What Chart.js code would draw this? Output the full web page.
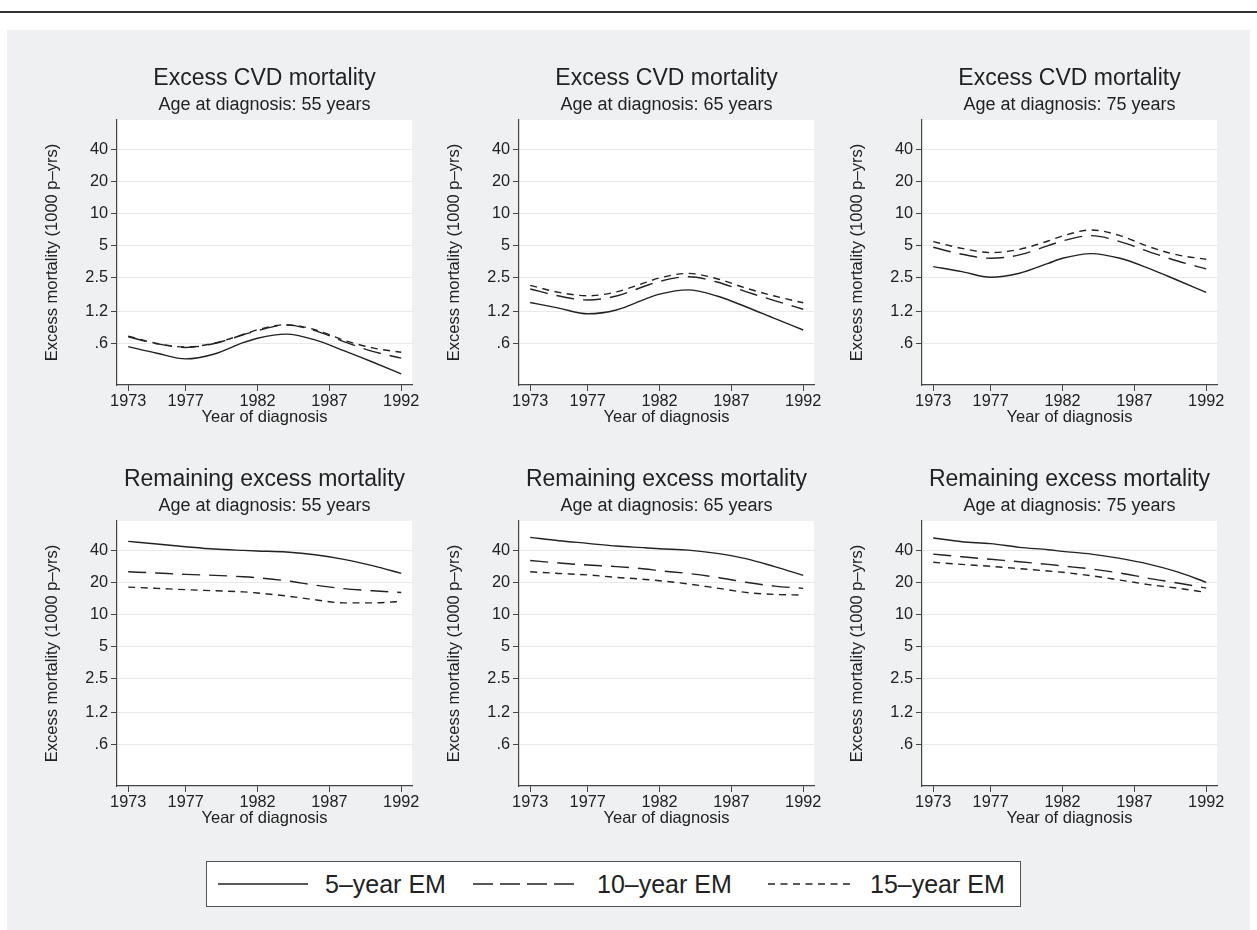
<!DOCTYPE html>
<html>
<head>
<meta charset="utf-8">
<script src="https://cdn.jsdelivr.net/npm/chart.js@4.4.0/dist/chart.umd.min.js"></script>
<style>
  body { margin: 0; width: 1257px; height: 930px; position: relative; overflow: hidden; background: #fff;
         font-family: "Liberation Sans", Arial, Helvetica, sans-serif; color: #222; }
  #rule { position: absolute; left: 0; top: 11px; width: 1257px; height: 2px; background: #333; }
  #panel { position: absolute; left: 7px; top: 30px; width: 1243px; height: 900px; background: #eff0f2; }
  canvas { position: absolute; }
  #legend { position: absolute; left: 206px; top: 861px; width: 813px; height: 44px; background: #fff;
            border: 1.5px solid #555; }
  #legend svg, #legend span { position: absolute; }
  #legend span { font-size: 25px; line-height: 44px; top: 0; white-space: nowrap; }
  #legend svg { top: 17px; }
</style>
</head>
<body>
<div id="rule"></div>
<div id="panel"></div>
<canvas id="c0"></canvas><canvas id="c1"></canvas><canvas id="c2"></canvas>
<canvas id="c3"></canvas><canvas id="c4"></canvas><canvas id="c5"></canvas>
<div id="legend">
  <svg style="left:11px" width="90" height="10"><line x1="0" y1="5" x2="90" y2="5" stroke="#222" stroke-width="1.5"/></svg>
  <span style="left:118px">5–year EM</span>
  <svg style="left:266px" width="102" height="10"><line x1="0" y1="5" x2="102" y2="5" stroke="#222" stroke-width="1.5" stroke-dasharray="20 7"/></svg>
  <span style="left:390px">10–year EM</span>
  <svg style="left:561px" width="82" height="10"><line x1="0" y1="5" x2="82" y2="5" stroke="#222" stroke-width="1.5" stroke-dasharray="7 5.5"/></svg>
  <span style="left:663px">15–year EM</span>
</div>
<script>
// values, years of diagnosis on x, excess mortality per 1000 p-yrs on y
const years = [1973, 1975, 1977, 1979, 1981, 1982, 1984, 1986, 1988, 1990, 1992];
const xTicks = [1973, 1977, 1982, 1987, 1992];
const yTicks = [0.6, 1.2, 2.5, 5, 10, 20, 40];
const yTickLabels = ['.6', '1.2', '2.5', '5', '10', '20', '40'];
const seriesNames = ['5–year EM', '10–year EM', '15–year EM'];
const rowTitles = ['Excess CVD mortality', 'Remaining excess mortality'];
const ages = [55, 65, 75];

// Excess CVD mortality
const cvd55_5  = [0.565, 0.49, 0.433, 0.482, 0.616, 0.678, 0.74, 0.654, 0.518, 0.405, 0.313];
const cvd55_10 = [0.70, 0.60, 0.555, 0.605, 0.73, 0.80, 0.90, 0.80, 0.63, 0.51, 0.44];
const cvd55_15 = [0.71, 0.605, 0.56, 0.61, 0.735, 0.815, 0.91, 0.815, 0.65, 0.55, 0.50];
const cvd65_5  = [1.47, 1.30, 1.15, 1.25, 1.58, 1.76, 1.93, 1.69, 1.34, 1.04, 0.81];
const cvd65_10 = [1.97, 1.69, 1.55, 1.69, 2.10, 2.32, 2.57, 2.29, 1.86, 1.53, 1.27];
const cvd65_15 = [2.13, 1.83, 1.70, 1.85, 2.26, 2.50, 2.76, 2.46, 2.01, 1.69, 1.46];
const cvd75_5  = [3.20, 2.87, 2.54, 2.77, 3.43, 3.83, 4.24, 3.83, 3.08, 2.38, 1.83];
const cvd75_10 = [4.86, 4.18, 3.83, 4.12, 5.04, 5.57, 6.26, 5.49, 4.42, 3.61, 3.04];
const cvd75_15 = [5.49, 4.75, 4.33, 4.65, 5.57, 6.21, 7.07, 6.26, 4.93, 4.12, 3.75];

// Remaining excess mortality
const rem55_5  = [49.3, 46.5, 43.9, 41.7, 40.5, 40.0, 39.1, 36.9, 33.4, 29.1, 24.6];
const rem55_10 = [25.5, 24.8, 24.1, 23.6, 22.9, 22.4, 21.0, 19.1, 17.7, 16.9, 16.3];
const rem55_15 = [18.3, 17.8, 17.3, 16.9, 16.5, 16.1, 15.1, 13.9, 13.0, 13.0, 13.4];
const rem65_5  = [53.7, 50.0, 47.2, 44.5, 42.9, 42.0, 40.8, 38.0, 33.9, 28.5, 23.6];
const rem65_10 = [32.6, 30.8, 29.5, 28.5, 27.1, 26.1, 24.6, 22.6, 20.3, 18.7, 17.8];
const rem65_15 = [25.5, 24.6, 23.8, 22.6, 21.6, 21.0, 19.6, 17.9, 16.3, 15.6, 15.4];
const rem75_5  = [53.0, 48.9, 46.9, 43.3, 41.1, 39.7, 37.4, 34.1, 30.1, 25.4, 20.3];
const rem75_10 = [37.4, 35.3, 33.4, 31.7, 29.9, 28.9, 27.1, 24.8, 22.1, 20.0, 17.9];
const rem75_15 = [31.3, 29.9, 28.7, 27.3, 25.9, 25.2, 23.4, 21.3, 19.3, 17.9, 16.3];

const panelData = [
  [cvd55_5, cvd55_10, cvd55_15], [cvd65_5, cvd65_10, cvd65_15], [cvd75_5, cvd75_10, cvd75_15],
  [rem55_5, rem55_10, rem55_15], [rem65_5, rem65_10, rem65_15], [rem75_5, rem75_10, rem75_15]
];
const dashes = [[], [18, 9], [7, 5.5]];
const ink = '#222';

Chart.defaults.font.family = '"Liberation Sans", Arial, Helvetica, sans-serif';
Chart.defaults.color = ink;

const plotBg = {
  id: 'plotBg',
  beforeDraw(chart) {
    const { ctx, chartArea: a } = chart;
    ctx.save();
    ctx.fillStyle = '#fff';
    ctx.fillRect(a.left, a.top, a.right - a.left, a.bottom - a.top);
    ctx.restore();
  }
};

const colLeft = [20, 422, 825];
const rowTop = [50, 451];

panelData.forEach((series, i) => {
  const col = i % 3, row = Math.floor(i / 3);
  const cv = document.getElementById('c' + i);
  cv.width = 410; cv.height = 380;
  cv.style.left = colLeft[col] + 'px';
  cv.style.top = rowTop[row] + 'px';
  cv.style.width = '410px'; cv.style.height = '380px';

  new Chart(cv.getContext('2d'), {
    type: 'line',
    data: {
      datasets: series.map((vals, k) => ({
        label: seriesNames[k],
        data: years.map((yr, j) => ({ x: yr, y: vals[j] })),
        borderColor: ink,
        borderWidth: 1.4,
        borderDash: dashes[k],
        pointRadius: 0,
        cubicInterpolationMode: 'monotone',
        fill: false
      }))
    },
    options: {
      responsive: false,
      animation: false,
      layout: { padding: { left: 0, right: 18, top: 0, bottom: 0 } },
      plugins: {
        legend: { display: false },
        tooltip: { enabled: false },
        title: {
          display: true, text: rowTitles[row], fullSize: false, color: ink,
          font: { size: 23, weight: 'normal' }, padding: { top: 14.7, bottom: 2.4 }
        },
        subtitle: {
          display: true, text: 'Age at diagnosis: ' + ages[col] + ' years', fullSize: false, color: ink,
          font: { size: 18, weight: 'normal' }, padding: { top: 0, bottom: 3.7 }
        }
      },
      scales: {
        x: {
          type: 'linear', min: 1972.22, max: 1992.75,
          afterBuildTicks: s => { s.ticks = xTicks.map(v => ({ value: v })); },
          afterFit: s => { s.height = 45; },
          ticks: { font: { size: 16.3 }, color: ink, padding: 1, maxRotation: 0, autoSkip: false,
                   callback: v => String(v) },
          grid: { drawOnChartArea: false, tickColor: '#444', tickLength: 6 },
          border: { color: '#444', width: 1.2 },
          title: { display: true, text: 'Year of diagnosis', font: { size: 16.5 }, color: ink,
                   padding: { top: 0, bottom: 3 } }
        },
        y: {
          type: 'logarithmic', min: 0.246, max: 76.6,
          afterBuildTicks: s => { s.ticks = yTicks.map(v => ({ value: v })); },
          afterFit: s => { s.width = 97; },
          ticks: { font: { size: 16.3 }, color: ink, padding: 3, callback: (v, idx) => yTickLabels[idx] },
          grid: { color: '#e9e9e9', tickColor: '#444', tickLength: 6 },
          border: { color: '#444', width: 1.2 },
          title: { display: true, text: 'Excess mortality (1000 p–yrs)', font: { size: 16.5 }, color: ink,
                   padding: { top: 23, bottom: 0 } }
        }
      }
    },
    plugins: [plotBg]
  });
});
</script>
</body>
</html>
